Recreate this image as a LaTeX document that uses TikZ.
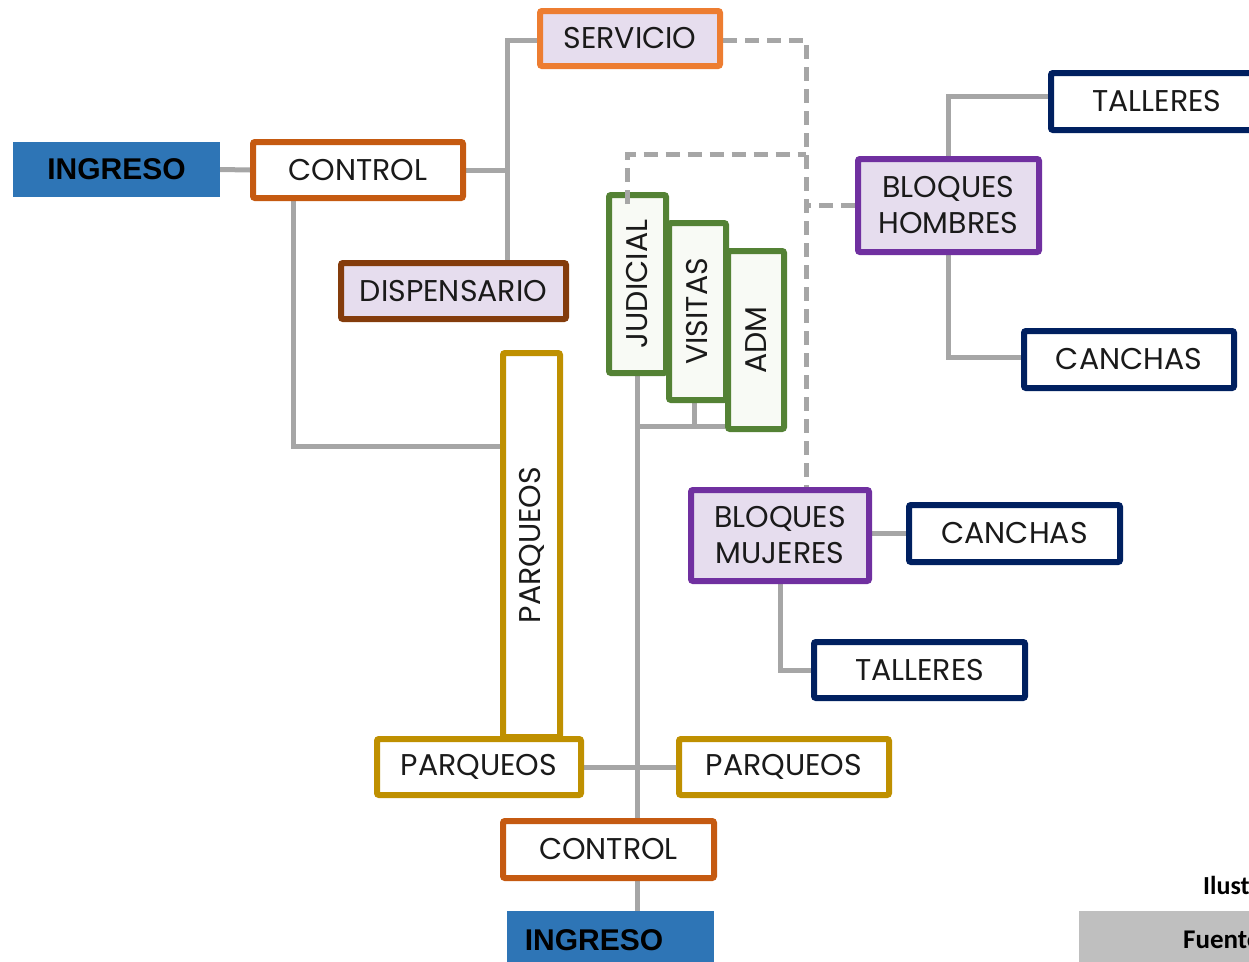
\documentclass[tikz,border=0pt]{standalone}
\usepackage{fontspec}
\setmainfont{Poppins}
\newfontfamily\arialb{Liberation Sans}
\newfontfamily\calib{Carlito}
\usetikzlibrary{backgrounds}
\definecolor{cOrange}{HTML}{ED7D31}
\definecolor{cDkOrange}{HTML}{C55A11}
\definecolor{cBrown}{HTML}{843C0C}
\definecolor{cGold}{HTML}{BF9000}
\definecolor{cGreen}{HTML}{548235}
\definecolor{cPurple}{HTML}{7030A0}
\definecolor{cNavy}{HTML}{002060}
\definecolor{cLav}{HTML}{E6DDEE}
\definecolor{cPale}{HTML}{F8FAF5}
\definecolor{cBlue}{HTML}{2E75B6}
\definecolor{cLine}{HTML}{A6A6A6}
\definecolor{cGrayBox}{HTML}{BFBFBF}
\definecolor{cText}{HTML}{1A1A1A}
\begin{document}
\begin{tikzpicture}[x=1pt,y=-1pt,
  box/.style={draw, line width=6pt, rounded corners=2pt, inner sep=0pt,
    text=cText, font=\fontsize{30}{36}\selectfont, align=center},
  ingbox/.style={fill=cBlue, inner sep=0pt},
  conn/.style={draw=cLine, line width=5pt},
  dconn/.style={conn, dash pattern=on 14pt off 8pt}]
\useasboundingbox (0,0) rectangle (1249,961);
\clip (0,0) rectangle (1249,961);
% boxes
\node[box, draw=cOrange, fill=cLav, minimum width=180pt, minimum height=55pt] (servicio) at (630,38.5) {SERVICIO};
\node[ingbox, minimum width=207pt, minimum height=55pt, font=\arialb\bfseries\fontsize{30}{34}\selectfont] (ingresoA) at (116.5,169.5) {INGRESO};
\node[box, draw=cDkOrange, fill=white, minimum width=210pt, minimum height=56pt] (controlA) at (358,170) {CONTROL};
\node[box, draw=cBrown, fill=cLav, minimum width=225pt, minimum height=56pt] (dispensario) at (453.5,291) {DISPENSARIO};
\node[box, draw=cGold, fill=white, minimum width=57pt, minimum height=384pt] (parqV) at (531.5,545) {\rotatebox{90}{PARQUEOS}};
\node[box, draw=cGreen, fill=cPale, minimum width=57pt, minimum height=178pt] (judicial) at (637.5,284) {\rotatebox{90}{JUDICIAL}};
\node[box, draw=cGreen, fill=cPale, minimum width=57pt, minimum height=177pt] (visitas) at (697.5,311.5) {\rotatebox{90}{VISITAS}};
\node[box, draw=cGreen, fill=cPale, minimum width=56pt, minimum height=178pt] (adm) at (756,340) {\rotatebox{90}{ADM}};
\node[box, draw=cPurple, fill=cLav, minimum width=181pt, minimum height=93pt] (bhombres) at (948.5,205.5) {BLOQUES\\HOMBRES};
\node[box, draw=cNavy, fill=white, minimum width=212pt, minimum height=57pt] (tallA) at (1157,101.5) {TALLERES};
\node[box, draw=cNavy, fill=white, minimum width=210pt, minimum height=57pt] (canchA) at (1129,359.5) {CANCHAS};
\node[box, draw=cPurple, fill=cLav, minimum width=178pt, minimum height=91pt] (bmujeres) at (780,535.5) {BLOQUES\\MUJERES};
\node[box, draw=cNavy, fill=white, minimum width=211pt, minimum height=57pt] (canchB) at (1014.5,533.5) {CANCHAS};
\node[box, draw=cNavy, fill=white, minimum width=211pt, minimum height=56pt] (tallB) at (919.5,670) {TALLERES};
\node[box, draw=cGold, fill=white, minimum width=204pt, minimum height=56pt] (parqL) at (479,767) {PARQUEOS};
\node[box, draw=cGold, fill=white, minimum width=210pt, minimum height=56pt] (parqR) at (784,767) {PARQUEOS};
\node[box, draw=cDkOrange, fill=white, minimum width=211pt, minimum height=57pt] (controlB) at (608.5,849.5) {CONTROL};
\node[ingbox, minimum width=207pt, minimum height=58pt] (ingresoB) at (610.5,940) {};
\node[font=\arialb\bfseries\fontsize{30}{34}\selectfont, inner sep=0pt] (ingresoBt) at (594,940) {INGRESO};
% footer
\node[font=\calib\bfseries\fontsize{26}{30}\selectfont, anchor=west, inner sep=0pt] (ilust) at (1203,885) {Ilust};
\node[fill=cGrayBox, anchor=north west, minimum width=200pt, minimum height=60pt, inner sep=0pt] (fuentebox) at (1079,911) {};
\node[font=\calib\bfseries\fontsize{27}{30}\selectfont, anchor=west, inner sep=0pt] (fuente) at (1183,940) {Fuente};
% connectors
\coordinate (busS) at (507,40);
\coordinate (dS) at (806,40);
\coordinate (dJ) at (806,154);
\coordinate (jb) at (637.5,426);
\begin{scope}[on background layer]
\draw[conn] (ingresoA.east) -- (controlA.west);
\draw[conn] (servicio.west |- busS) -- (busS) -- (busS |- dispensario.north);
\draw[conn] (controlA.east) -- (controlA.east -| busS);
\draw[conn] ([xshift=-65pt]controlA.south) |- ([yshift=99pt]parqV.west);
\draw[dconn] (servicio.east |- dS) -- (dS) -- ([xshift=26pt]bmujeres.north);
\draw[dconn] (bhombres.west) -- (bhombres.west -| dS);
\draw[conn] (bhombres.north) |- ([yshift=5pt]tallA.west);
\draw[conn] (bhombres.south) |- ([yshift=2pt]canchA.west);
\draw[conn] ([yshift=2pt]bmujeres.east) -- ([yshift=2pt]bmujeres.east -| canchB.west);
\draw[conn] (bmujeres.south) |- (tallB.west);
\draw[conn] (judicial.south) -- (judicial.south |- controlB.north);
\draw[conn] (jb) -- (jb -| adm.west);
\draw[conn] ([xshift=-3pt]visitas.south) -- ([xshift=-3pt]visitas.south |- jb);
\draw[conn] (parqL.east) -- (parqR.west);
\draw[conn] (controlB.south -| jb) -- (ingresoB.north -| jb);
\end{scope}
\draw[dconn] ([xshift=-10pt,yshift=-12pt]judicial.north) |- (dJ);
\end{tikzpicture}
\end{document}
